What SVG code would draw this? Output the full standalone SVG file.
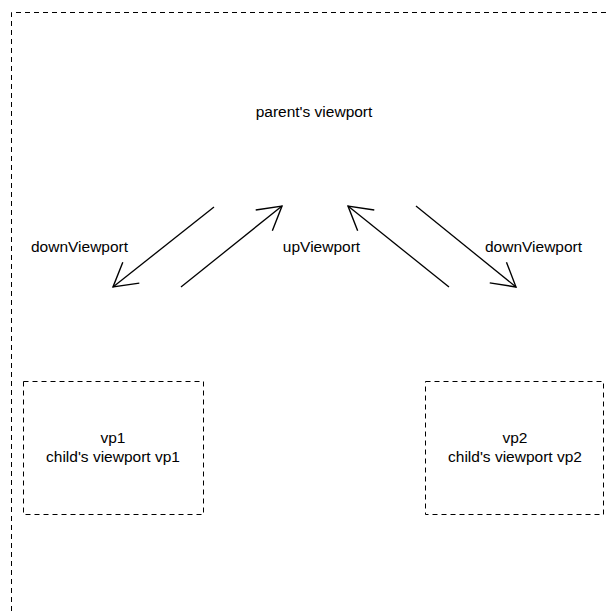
<svg xmlns="http://www.w3.org/2000/svg" width="606" height="612" viewBox="0 0 606 612">
<style>
.frame{fill:none;stroke:#000;stroke-width:1;stroke-dasharray:5,4}
.conn{fill:none;stroke:#000;stroke-width:1.3}
text{font-family:"Liberation Sans",Arial,sans-serif;font-size:15.5px;fill:#000}
.c{text-anchor:middle}
</style>
<defs>
<marker id="ah" markerUnits="userSpaceOnUse" markerWidth="30" markerHeight="30" refX="0" refY="0" viewBox="-26 -14 28 28" orient="auto" overflow="visible">
<path d="M-21.5,-12.4 L0,0 L-21.5,12.4" fill="none" stroke="#000" stroke-width="1.3"/>
</marker>
</defs>
<rect fill="#fff" x="0" y="0" width="606" height="612"/>
<g id="parent">
<path class="frame" d="M11.5,620 L11.5,12.5 L620,12.5"/>
<text class="c" x="314" y="117">parent's viewport</text>
</g>
<g id="vp1">
<rect class="frame" x="23.5" y="381.5" width="180" height="133"/>
<text class="c" x="113" y="443">vp1</text>
<text class="c" x="113" y="462">child's viewport vp1</text>
</g>
<g id="vp2">
<rect class="frame" x="425.5" y="381.5" width="178" height="133"/>
<text class="c" x="515" y="443">vp2</text>
<text class="c" x="515" y="462">child's viewport vp2</text>
</g>
<g id="connectors">
<line class="conn" x1="214" y1="207" x2="113" y2="287" marker-end="url(#ah)"/>
<line class="conn" x1="181" y1="287" x2="282" y2="206" marker-end="url(#ah)"/>
<line class="conn" x1="449" y1="287" x2="348" y2="206" marker-end="url(#ah)"/>
<line class="conn" x1="416" y1="206" x2="516" y2="287" marker-end="url(#ah)"/>
<text x="31" y="252">downViewport</text>
<text class="c" x="321.5" y="252">upViewport</text>
<text x="485" y="252">downViewport</text>
</g>
</svg>
